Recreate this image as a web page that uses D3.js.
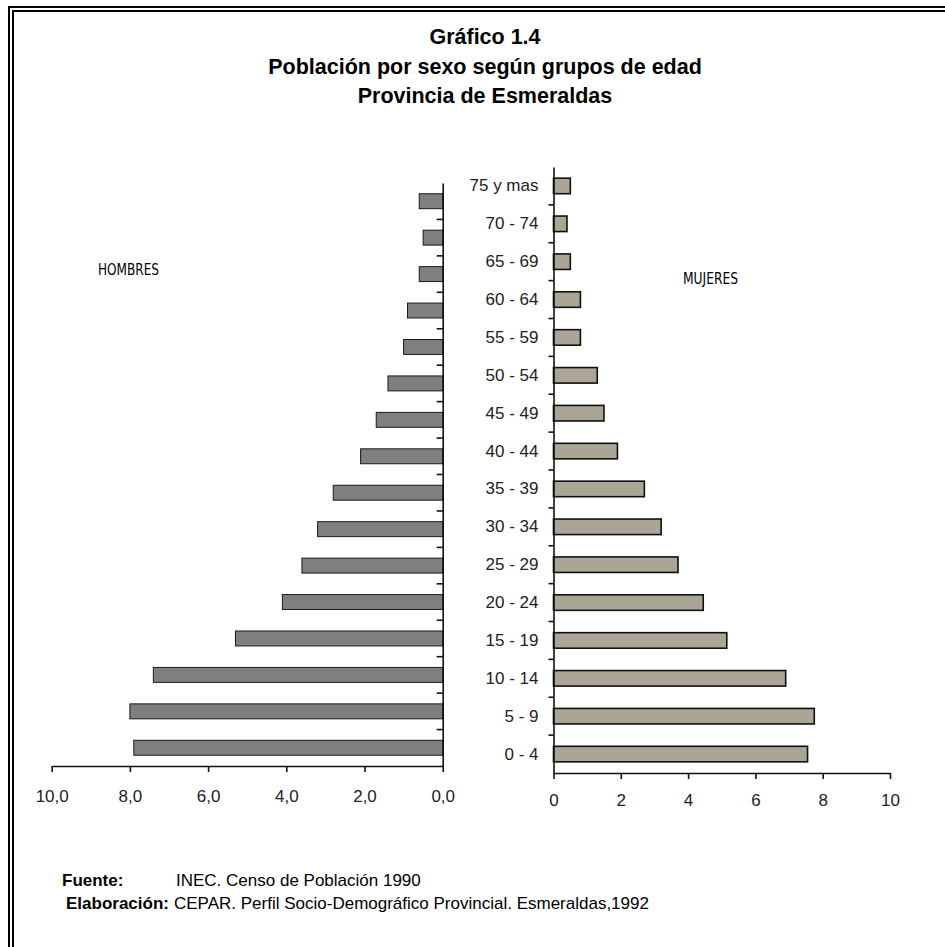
<!DOCTYPE html>
<html><head><meta charset="utf-8">
<script src="https://cdn.jsdelivr.net/npm/d3@7/dist/d3.min.js"></script>
<style>
html,body{margin:0;padding:0;background:#fff;}
svg{display:block;}
</style></head>
<body>
<svg id="chart" width="945" height="947"></svg>
<script>
// ---------- data ----------
const categories = ["0 - 4","5 - 9","10 - 14","15 - 19","20 - 24","25 - 29","30 - 34","35 - 39","40 - 44","45 - 49","50 - 54","55 - 59","60 - 64","65 - 69","70 - 74","75 y mas"];
const hombres = [7.9, 8.0, 7.4, 5.3, 4.1, 3.6, 3.2, 2.8, 2.1, 1.7, 1.4, 1.0, 0.9, 0.6, 0.5, 0.6];
const mujeres = [7.55, 7.75, 6.9, 5.15, 4.45, 3.7, 3.2, 2.7, 1.9, 1.5, 1.3, 0.8, 0.8, 0.5, 0.4, 0.5];
const leftTicks = [0, 2, 4, 6, 8, 10];
const leftTickLabels = ["0,0", "2,0", "4,0", "6,0", "8,0", "10,0"];
const rightTicks = [0, 2, 4, 6, 8, 10];
const rightTickLabels = ["0", "2", "4", "6", "8", "10"];
const titleLines = ["Gráfico 1.4", "Población por sexo según grupos de edad", "Provincia de Esmeraldas"];
const seriesLabels = ["HOMBRES", "MUJERES"];

// ---------- drawing ----------
const svg = d3.select("#chart");
const FONT = "'Liberation Sans', Arial, sans-serif";
const NARROW = "'Liberation Sans Narrow', 'DejaVu Sans Condensed', sans-serif";

// double frame
[[9, 7], [13, 11]].forEach(([x, y]) => {
  svg.append("path")
    .attr("d", `M${x},947 L${x},${y} L945,${y}`)
    .attr("fill", "none").attr("stroke", "#000").attr("stroke-width", 2);
});

// title
svg.append("g").selectAll("text").data(titleLines).join("text")
  .attr("x", 485).attr("y", (d, i) => 44 + i * 29.5)
  .attr("text-anchor", "middle")
  .attr("font-family", FONT).attr("font-weight", "bold").attr("font-size", 21.5)
  .attr("fill", "#000").text(d => d);

// ---- scales ----
const xL = d3.scaleLinear().domain([0, 10]).range([442.7, 51.7]);
const yL = d3.scaleBand().domain(categories).range([766, 183]);
const xR = d3.scaleLinear().domain([0, 10]).range([553.5, 890]);
const yR = d3.scaleBand().domain(categories).range([773, 167]);

const barFrac = 0.41;

// ---- left (hombres) ----
const gL = svg.append("g");
gL.selectAll("rect").data(categories).join("rect")
  .attr("x", (d, i) => xL(hombres[i]))
  .attr("width", (d, i) => xL(0) - xL(hombres[i]))
  .attr("y", d => yL(d) + yL.bandwidth() * (1 - barFrac) / 2)
  .attr("height", yL.bandwidth() * barFrac)
  .attr("fill", "#7f7f7f").attr("stroke", "#1a1a1a").attr("stroke-width", 1);

// left vertical axis
const axL = gL.append("g").attr("transform", `translate(${xL(0)},0)`)
  .call(d3.axisLeft(yL).tickSize(0).tickFormat(""));
axL.select(".domain").attr("stroke", "#111").attr("stroke-width", 1.6);
gL.selectAll("line.bt").data(categories.slice(0, -1)).join("line").attr("class", "bt")
  .attr("x1", xL(0) - 6).attr("x2", xL(0))
  .attr("y1", d => yL(d)).attr("y2", d => yL(d))
  .attr("stroke", "#111").attr("stroke-width", 1.6);

// left bottom axis
const axLB = gL.append("g").attr("transform", "translate(0,766)")
  .call(d3.axisBottom(xL).tickValues(leftTicks).tickSize(6).tickSizeOuter(0).tickPadding(18)
    .tickFormat((d, i) => leftTickLabels[i]));
axLB.select(".domain").attr("stroke", "#111").attr("stroke-width", 1.6);
axLB.selectAll(".tick line").attr("stroke", "#111").attr("stroke-width", 1.6);
axLB.selectAll("text").attr("font-family", FONT).attr("font-size", 17).attr("fill", "#222");

// ---- right (mujeres) ----
const gR = svg.append("g");
gR.selectAll("rect").data(categories).join("rect")
  .attr("x", xR(0))
  .attr("width", (d, i) => xR(mujeres[i]) - xR(0))
  .attr("y", d => yR(d) + yR.bandwidth() * (1 - barFrac) / 2)
  .attr("height", yR.bandwidth() * barFrac)
  .attr("fill", "#aaa594").attr("stroke", "#111").attr("stroke-width", 1.6);

const axR = gR.append("g").attr("transform", `translate(${xR(0)},0)`)
  .call(d3.axisLeft(yR).tickSize(0).tickPadding(15));
axR.select(".domain").attr("stroke", "#111").attr("stroke-width", 1.6);
axR.selectAll("text").attr("font-family", FONT).attr("font-size", 17).attr("fill", "#222");
gR.selectAll("line.bt").data(categories.slice(0, -1)).join("line").attr("class", "bt")
  .attr("x1", xR(0) - 5).attr("x2", xR(0))
  .attr("y1", d => yR(d)).attr("y2", d => yR(d))
  .attr("stroke", "#111").attr("stroke-width", 1.6);

const axRB = gR.append("g").attr("transform", "translate(0,773)")
  .call(d3.axisBottom(xR).tickValues(rightTicks).tickSize(6).tickSizeOuter(0).tickPadding(15)
    .tickFormat((d, i) => rightTickLabels[i]));
axRB.select(".domain").attr("stroke", "#111").attr("stroke-width", 1.6);
axRB.selectAll(".tick line").attr("stroke", "#111").attr("stroke-width", 1.6);
axRB.selectAll("text").attr("font-family", FONT).attr("font-size", 17).attr("fill", "#222");

// series labels
svg.append("text").attr("x", 98).attr("y", 275)
  .attr("font-family", NARROW).attr("font-size", 15).attr("fill", "#000")
  .attr("textLength", 61).attr("lengthAdjust", "spacingAndGlyphs").text(seriesLabels[0]);
svg.append("text").attr("x", 683).attr("y", 284)
  .attr("font-family", NARROW).attr("font-size", 15).attr("fill", "#000")
  .attr("textLength", 55).attr("lengthAdjust", "spacingAndGlyphs").text(seriesLabels[1]);

// footer
const foot = svg.append("g").attr("font-family", FONT).attr("font-size", 17).attr("fill", "#000");
foot.append("text").attr("x", 62).attr("y", 886).attr("font-weight", "bold").text("Fuente:");
foot.append("text").attr("x", 176).attr("y", 886).text("INEC. Censo de Población 1990");
foot.append("text").attr("x", 66).attr("y", 909).attr("font-weight", "bold").text("Elaboración:");
foot.append("text").attr("x", 174).attr("y", 909).text("CEPAR. Perfil Socio-Demográfico Provincial. Esmeraldas,1992");
</script>
</body></html>
